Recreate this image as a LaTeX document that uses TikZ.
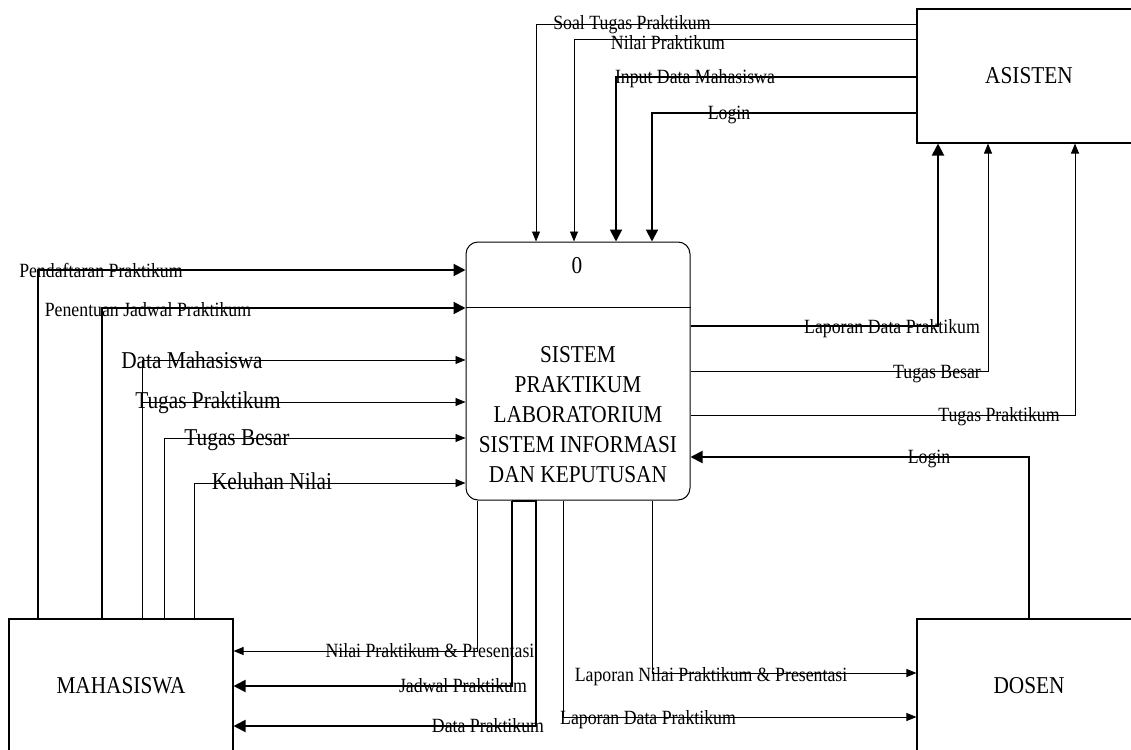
\documentclass[tikz,border=0pt]{standalone}
\usepackage{fontspec}
\setmainfont{Liberation Serif}[FakeStretch=0.88]
\usetikzlibrary{arrows.meta}
\tikzset{
  ent/.style={draw, line width=1.1pt, minimum width=224pt, minimum height=134pt, inner sep=0pt, font=\fontsize{24.2}{30}\selectfont},
  procbox/.style={draw, line width=1pt, rounded corners=12pt, minimum width=224pt, minimum height=258pt, inner sep=0pt},
  thinflow/.style={line width=0.9pt, -{Triangle[length=10pt,width=8pt]}},
  thickflow/.style={line width=2pt, -{Triangle[length=12pt,width=12pt]}},
  lbl/.style={font=\fontsize{20.2}{22}\selectfont, inner sep=0pt, anchor=base},
  biglbl/.style={font=\fontsize{24.2}{30}\selectfont, inner sep=0pt},
}
\begin{document}
\begin{tikzpicture}[x=1pt,y=-1pt]
\useasboundingbox (0,0) rectangle (1131,749);
\clip (0,0) rectangle (1131,749);

% nodes
\node[ent] (asisten) at (1029,76) {ASISTEN};
\node[ent] (mhs) at (121,686) {MAHASISWA};
\node[ent] (dosen) at (1029,686) {DOSEN};
\node[procbox] (proc) at (578,371) {};
\draw[line width=1pt] (proc.west |- 0,307) -- (proc.east |- 0,307);
\node[biglbl, anchor=base] (pnum) at (577,273) {0};
\node[biglbl, align=center] (ptext) at (578,415) {SISTEM\\PRAKTIKUM\\LABORATORIUM\\SISTEM INFORMASI\\DAN KEPUTUSAN};

% ASISTEN -> process
\draw[thinflow] (asisten.west |- 0,24) -| (proc.north -| 536,0);
\draw[thinflow] (asisten.west |- 0,39) -| (proc.north -| 574,0);
\draw[thickflow] (asisten.west |- 0,77) -| (proc.north -| 616,0);
\draw[thickflow] (asisten.west |- 0,113) -| (proc.north -| 652,0);
\node[lbl] (l1) at (632,30) {Soal Tugas Praktikum};
\node[lbl] (l2) at (668,50) {Nilai Praktikum};
\node[lbl] (l3) at (695,84) {Input Data Mahasiswa};
\node[lbl] (l4) at (729,119) {Login};

% MAHASISWA -> process
\draw[thickflow] (mhs.north -| 38,0) |- (proc.west |- 0,270);
\draw[thickflow] (mhs.north -| 102,0) |- (proc.west |- 0,308);
\draw[thinflow] (mhs.north -| 142,0) |- (proc.west |- 0,360);
\draw[thinflow] (mhs.north -| 142,0) |- (proc.west |- 0,402);
\draw[thinflow] (mhs.north -| 164,0) |- (proc.west |- 0,438);
\draw[thinflow] (mhs.north -| 194,0) |- (proc.west |- 0,483);
\node[lbl] (l5) at (101,277) {Pendaftaran Praktikum};
\node[lbl] (l6) at (148,316) {Penentuan Jadwal Praktikum};
\node[biglbl, anchor=base] (l7) at (192,368) {Data Mahasiswa};
\node[biglbl, anchor=base] (l8) at (208,408) {Tugas Praktikum};
\node[biglbl, anchor=base] (l9) at (237,445) {Tugas Besar};
\node[biglbl, anchor=base] (l10) at (272,489) {Keluhan Nilai};

% process -> MAHASISWA
\draw[thinflow] (proc.south -| 477,0) |- (mhs.east |- 0,651);
\draw[thickflow] (proc.south -| 512,0) |- (mhs.east |- 0,686);
\draw[thickflow] (proc.south -| 512,0) -- (proc.south -| 536,0) |- (mhs.east |- 0,726);
\node[lbl] (l11) at (430,657) {Nilai Praktikum \& Presentasi};
\node[lbl] (l12) at (463,692) {Jadwal Praktikum};
\node[lbl] (l13) at (488,732) {Data Praktikum};

% process -> DOSEN
\draw[thinflow] (proc.south -| 652,0) |- (dosen.west |- 0,673);
\draw[thinflow] (proc.south -| 563,0) |- (dosen.west |- 0,717);
\node[lbl] (l14) at (711,681) {Laporan Nilai Praktikum \& Presentasi};
\node[lbl] (l15) at (648,724) {Laporan Data Praktikum};

% process -> ASISTEN
\draw[thickflow] (proc.east |- 0,326) -| (asisten.south -| 938,0);
\draw[thinflow] (proc.east |- 0,371) -| (asisten.south -| 988,0);
\draw[thinflow] (proc.east |- 0,415) -| (asisten.south -| 1075,0);
\node[lbl] (l16) at (892,333) {Laporan Data Praktikum};
\node[lbl] (l17) at (937,378) {Tugas Besar};
\node[lbl] (l18) at (999,421) {Tugas Praktikum};

% DOSEN -> process
\draw[thickflow] (dosen.north) |- (proc.east |- 0,457);
\node[lbl] (l19) at (929,463) {Login};
\end{tikzpicture}
\end{document}
